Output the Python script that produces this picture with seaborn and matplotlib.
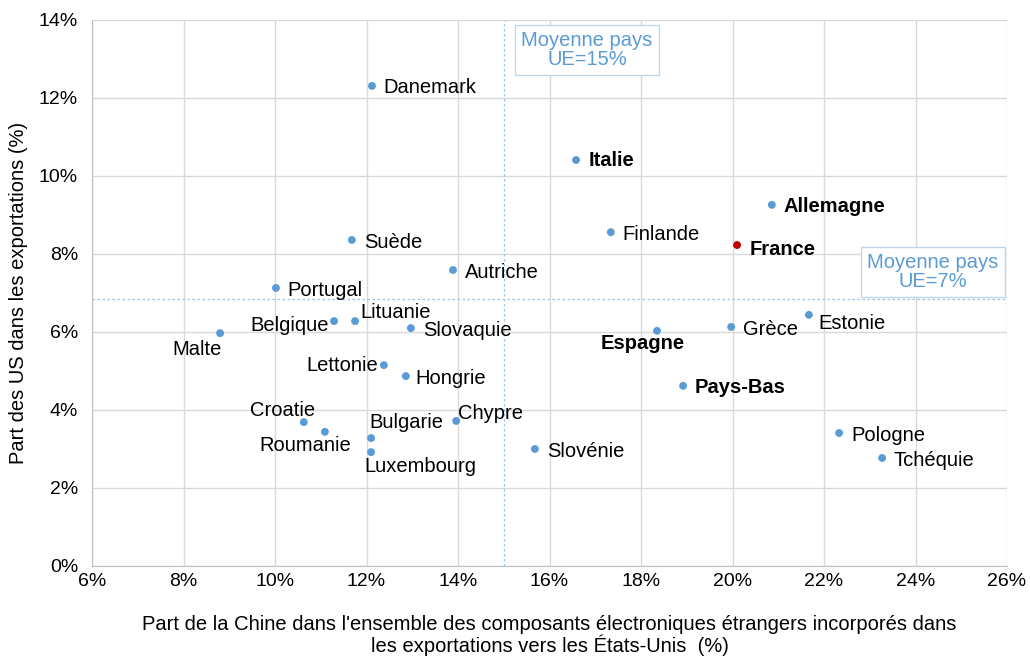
import matplotlib
matplotlib.use("Agg")
from matplotlib import pyplot as plt
import pandas as pd
import seaborn as sns

# donnees (%)
pays = ['Danemark', 'Italie', 'Allemagne', 'Finlande', 'France', 'Suède', 'Autriche',
        'Portugal', 'Lituanie', 'Belgique', 'Slovaquie', 'Malte', 'Espagne', 'Grèce',
        'Estonie', 'Lettonie', 'Hongrie', 'Pays-Bas', 'Croatie', 'Roumanie', 'Bulgarie',
        'Luxembourg', 'Chypre', 'Slovénie', 'Pologne', 'Tchéquie']
part_chine = [12.12, 16.58, 20.86, 17.34, 20.10, 11.68, 13.89, 10.02, 11.75, 11.29, 12.97,
              8.80, 18.35, 19.97, 21.67, 12.38, 12.86, 18.92, 10.63, 11.09, 12.10, 12.10,
              13.96, 15.68, 22.33, 23.27]
part_us = [12.31, 10.41, 9.26, 8.56, 8.23, 8.36, 7.59, 7.13, 6.28, 6.28, 6.10, 5.97,
           6.03, 6.13, 6.44, 5.15, 4.87, 4.62, 3.69, 3.44, 3.28, 2.92, 3.72, 3.0, 3.41, 2.77]
gras = ['Italie', 'Allemagne', 'France', 'Espagne', 'Pays-Bas']
moyenne_x = 15
moyenne_y = 6.85

# position des etiquettes (decalage en points, alignement)
decal = {'Malte': (1.5, -11.5, 'right'), 'Belgique': (-4, -3, 'right'),
         'Lettonie': (-4, 0, 'right'), 'Croatie': (8, 8, 'right'),
         'Roumanie': (19, -10, 'right'), 'Bulgarie': (-1.5, 11, 'left'),
         'Luxembourg': (-5, -10, 'left'), 'Espagne': (20, -9, 'right'),
         'Lituanie': (4, 6.5, 'left'), 'Chypre': (1.5, 5, 'left'),
         'Estonie': (6.5, -6, 'left'), 'Hongrie': (7, -2, 'left'),
         'France': (9, -3, 'left'), 'Italie': (9, 0, 'left')}

df = pd.DataFrame({'pays': pays, 'x': part_chine, 'y': part_us})
df['groupe'] = ['France' if p == 'France' else 'autre' for p in pays]

sns.set_style('white')
plt.rcParams['font.family'] = ['Liberation Sans', 'DejaVu Sans']

fig = plt.figure(figsize=(10.3, 6.57), dpi=100)
ax = fig.add_axes([92 / 1030, 1 - 566 / 657, 915 / 1030, 546 / 657])

sns.scatterplot(data=df, x='x', y='y', hue='groupe',
                palette={'France': '#c00000', 'autre': '#5b9bd5'},
                s=32, edgecolor='none', legend=False, ax=ax, zorder=3)

for p, xv, yv in zip(pays, part_chine, part_us):
    dx, dy, ha = decal.get(p, (8.5, -1.5, 'left'))
    ax.annotate(p, (xv, yv), xytext=(dx, dy), textcoords='offset points',
                fontsize=14.5, va='center', ha=ha,
                fontweight='bold' if p in gras else 'normal', color='black')

ax.axvline(moyenne_x, color='#9dc3e6', lw=0.9, ls=(0, (2, 2)), zorder=2)
ax.axhline(moyenne_y, color='#9dc3e6', lw=0.9, ls=(0, (2, 2)), zorder=2)

bbox = dict(boxstyle='square,pad=0.3', fc='white', ec='#bdd7ee', lw=1)
ax.text(16.82, 13.23, 'Moyenne pays\nUE=15%', ha='center', va='center',
        color='#5b9bd5', fontsize=14.5, bbox=bbox, linespacing=1.0)
ax.text(24.38, 7.54, 'Moyenne pays\nUE=7%', ha='center', va='center',
        color='#5b9bd5', fontsize=14.5, bbox=bbox, linespacing=1.0)

ax.set_xlim(6, 26)
ax.set_ylim(0, 14)
ax.set_xticks(range(6, 27, 2))
ax.set_yticks(range(0, 15, 2))
ax.set_xticklabels([f'{v}%' for v in range(6, 27, 2)])
ax.set_yticklabels([f'{v}%' for v in range(0, 15, 2)])
ax.tick_params(axis='x', labelsize=14, length=0, pad=5, labelcolor='black')
ax.tick_params(axis='y', labelsize=14, length=0, pad=10, labelcolor='black')
ax.grid(True, color='#d9d9d9', lw=1)
for s in ['top', 'right']:
    ax.spines[s].set_visible(False)
for s in ['left', 'bottom']:
    ax.spines[s].set_color('#bfbfbf')

ax.set_xlabel("Part de la Chine dans l'ensemble des composants électroniques étrangers incorporés dans\n"
              "les exportations vers les États-Unis  (%)", fontsize=14.5, labelpad=18,
              linespacing=1.05, color='black')
ax.set_ylabel('Part des US dans les exportations (%)', fontsize=14.5, labelpad=8, color='black')

fig.savefig('out.png', dpi=100)
